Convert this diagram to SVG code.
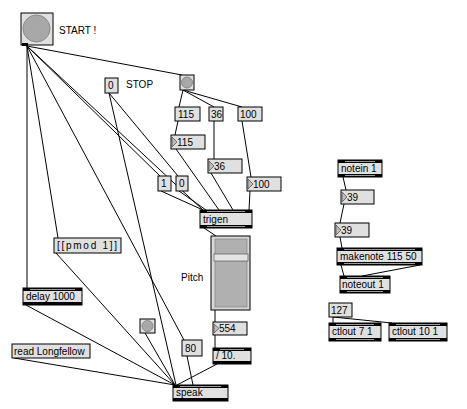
<svg xmlns="http://www.w3.org/2000/svg" width="467" height="409" viewBox="0 0 467 409">
<style>
text{font-family:"Liberation Sans",Arial,sans-serif;font-size:10px;fill:#000}
.b{fill:#e0e0e0;stroke:#000;stroke-width:1}
.bar{fill:#000}
.mid{fill:#9a9a9a}
.tri{fill:#bdbdbd;stroke:#555;stroke-width:0.8}
.bang{fill:#a8a8a8;stroke:#8a8a8a;stroke-width:1}
#wires line{stroke:#000;stroke-width:1}
</style>
<rect width="467" height="409" fill="#fff"/>
<g id="wires">
<line x1="27" y1="46" x2="27" y2="288"/>
<line x1="27" y1="46" x2="58" y2="238"/>
<line x1="27" y1="46" x2="184" y2="340"/>
<line x1="27" y1="46" x2="160" y2="176"/>
<line x1="27" y1="46" x2="203" y2="210"/>
<line x1="27" y1="46" x2="182" y2="75"/>
<line x1="109" y1="93" x2="178" y2="176"/>
<line x1="109" y1="93" x2="176" y2="385"/>
<line x1="183" y1="90" x2="179" y2="107"/>
<line x1="183" y1="90" x2="214" y2="107"/>
<line x1="183" y1="90" x2="242" y2="107"/>
<line x1="178" y1="121" x2="175" y2="135"/>
<line x1="214" y1="121" x2="214" y2="159"/>
<line x1="242" y1="121" x2="251" y2="177"/>
<line x1="176" y1="149" x2="219" y2="210"/>
<line x1="211" y1="173" x2="233" y2="210"/>
<line x1="250" y1="191" x2="249" y2="210"/>
<line x1="161" y1="191" x2="203" y2="210"/>
<line x1="179" y1="191" x2="206" y2="210"/>
<line x1="204" y1="228" x2="216" y2="236"/>
<line x1="215" y1="310" x2="215" y2="322"/>
<line x1="215" y1="335" x2="215" y2="348"/>
<line x1="217" y1="364" x2="177" y2="385"/>
<line x1="187" y1="356" x2="193" y2="385"/>
<line x1="26" y1="305" x2="175" y2="385"/>
<line x1="14" y1="358" x2="175" y2="385"/>
<line x1="56" y1="253" x2="175" y2="385"/>
<line x1="145" y1="333" x2="175" y2="385"/>
<line x1="343" y1="177" x2="346" y2="190"/>
<line x1="344" y1="204" x2="340" y2="223"/>
<line x1="340" y1="237" x2="342" y2="248"/>
<line x1="341" y1="265" x2="344" y2="276"/>
<line x1="420" y1="265" x2="362" y2="276"/>
<line x1="333" y1="317" x2="333" y2="323"/>
<line x1="333" y1="317" x2="392" y2="323"/>
</g>
<g id="start"><rect class="b" x="21" y="13" width="32" height="32"/><circle class="bang" cx="36.5" cy="28.5" r="13.5"/><rect class="bar" x="22" y="43" width="6" height="3"/></g>
<text x="59" y="34">START !</text>
<g id="stop"><rect class="b" x="105" y="78" width="13" height="15"/><text x="108" y="89">0</text></g>
<text x="126" y="88">STOP</text>
<g id="bang1"><rect class="b" x="180" y="75" width="14" height="15"/><circle class="bang" cx="187" cy="82.5" r="5.5"/></g>
<g id="m115"><rect class="b" x="175" y="107" width="25" height="14"/><text x="178" y="118">115</text></g>
<g id="m36"><rect class="b" x="209" y="107" width="14" height="14"/><text x="211" y="118">36</text></g>
<g id="m100"><rect class="b" x="238" y="107" width="24" height="14"/><text x="240" y="118">100</text></g>
<g id="n115"><rect class="b" x="171" y="135" width="34" height="14"/><polygon class="tri" points="172,137 177,142 172,147"/><text x="177" y="146">115</text></g>
<g id="n36"><rect class="b" x="208" y="159" width="34" height="14"/><polygon class="tri" points="209,161 214,166 209,171"/><text x="214" y="170">36</text></g>
<g id="n100"><rect class="b" x="247" y="177" width="34" height="14"/><polygon class="tri" points="248,179 253,184 248,189"/><text x="253" y="188">100</text></g>
<g id="m1"><rect class="b" x="158" y="176" width="13" height="15"/><text x="161" y="187">1</text></g>
<g id="m0"><rect class="b" x="176" y="176" width="12" height="15"/><text x="179" y="187">0</text></g>
<g id="trigen"><rect class="b" x="200" y="210" width="52" height="18"/><rect class="bar" x="200" y="210" width="52" height="3"/><rect class="mid" x="207" y="211" width="38" height="1"/><rect class="bar" x="200" y="225" width="52" height="3"/><rect class="mid" x="207" y="226" width="38" height="1"/><text x="203" y="223">trigen</text></g>
<g id="slider"><rect x="211" y="236" width="39" height="74" fill="#d8d8d8" stroke="#000"/><rect x="215" y="239" width="32" height="68" fill="#b0b0b0" stroke="#8a8a8a" stroke-width="0.8"/><rect x="214" y="254" width="34" height="7" fill="#e4e4e4" stroke="#666" stroke-width="0.8"/></g>
<text x="181" y="281">Pitch</text>
<g id="pmod"><rect class="b" x="54" y="238" width="67" height="15"/><text x="57" y="249" textLength="60" lengthAdjust="spacing">[[pmod 1]]</text></g>
<g id="delay"><rect class="b" x="23" y="288" width="59" height="17"/><rect class="bar" x="23" y="288" width="59" height="3"/><rect class="mid" x="30" y="289" width="45" height="1"/><rect class="bar" x="23" y="302" width="59" height="3"/><text x="26" y="300">delay 1000</text></g>
<g id="bang2"><rect class="b" x="140" y="319" width="15" height="14"/><circle class="bang" cx="147.5" cy="326" r="5.5"/></g>
<g id="read"><rect class="b" x="12" y="344" width="78" height="14"/><text x="14" y="355">read Longfellow</text></g>
<g id="m80"><rect class="b" x="182" y="340" width="20" height="16"/><text x="185" y="352">80</text></g>
<g id="n554"><rect class="b" x="213" y="322" width="34" height="13"/><polygon class="tri" points="214,324 219,328.5 214,333"/><text x="219" y="332">554</text></g>
<g id="div"><rect class="b" x="213" y="348" width="38" height="16"/><rect class="bar" x="213" y="348" width="38" height="3"/><rect class="mid" x="220" y="349" width="24" height="1"/><rect class="bar" x="213" y="361" width="38" height="3"/><text x="216" y="359">/ 10.</text></g>
<g id="speak"><rect class="b" x="173" y="385" width="55" height="16"/><rect class="bar" x="173" y="385" width="55" height="3"/><rect class="mid" x="180" y="386" width="41" height="1"/><rect class="bar" x="173" y="398" width="55" height="3"/><text x="176" y="396">speak</text></g>
<g id="notein"><rect class="b" x="338" y="160" width="44" height="17"/><rect class="bar" x="338" y="160" width="44" height="3"/><rect class="mid" x="345" y="161" width="30" height="1"/><rect class="bar" x="338" y="174" width="44" height="3"/><rect class="mid" x="345" y="175" width="30" height="1"/><text x="341" y="172">notein 1</text></g>
<g id="n39a"><rect class="b" x="341" y="190" width="33" height="14"/><polygon class="tri" points="342,192 347,197 342,202"/><text x="347" y="201">39</text></g>
<g id="n39b"><rect class="b" x="335" y="223" width="34" height="14"/><polygon class="tri" points="336,225 341,230 336,235"/><text x="341" y="234">39</text></g>
<g id="makenote"><rect class="b" x="337" y="248" width="85" height="17"/><rect class="bar" x="337" y="248" width="85" height="3"/><rect class="mid" x="344" y="249" width="71" height="1"/><rect class="bar" x="337" y="262" width="85" height="3"/><rect class="mid" x="344" y="263" width="71" height="1"/><text x="340" y="260">makenote 115 50</text></g>
<g id="noteout"><rect class="b" x="340" y="276" width="50" height="17"/><rect class="bar" x="340" y="276" width="50" height="3"/><rect class="mid" x="347" y="277" width="36" height="1"/><rect class="bar" x="340" y="290" width="50" height="3"/><rect class="mid" x="347" y="291" width="36" height="1"/><text x="342" y="288">noteout 1</text></g>
<g id="m127"><rect class="b" x="329" y="303" width="23" height="14"/><text x="331" y="314">127</text></g>
<g id="ctl7"><rect class="b" x="329" y="323" width="52" height="18"/><rect class="bar" x="329" y="323" width="52" height="3"/><rect class="mid" x="336" y="324" width="38" height="1"/><rect class="bar" x="329" y="338" width="52" height="3"/><rect class="mid" x="336" y="339" width="38" height="1"/><text x="332" y="335">ctlout 7 1</text></g>
<g id="ctl10"><rect class="b" x="389" y="323" width="58" height="18"/><rect class="bar" x="389" y="323" width="58" height="3"/><rect class="mid" x="396" y="324" width="44" height="1"/><rect class="bar" x="389" y="338" width="58" height="3"/><rect class="mid" x="396" y="339" width="44" height="1"/><text x="392" y="335">ctlout 10 1</text></g>
</svg>
